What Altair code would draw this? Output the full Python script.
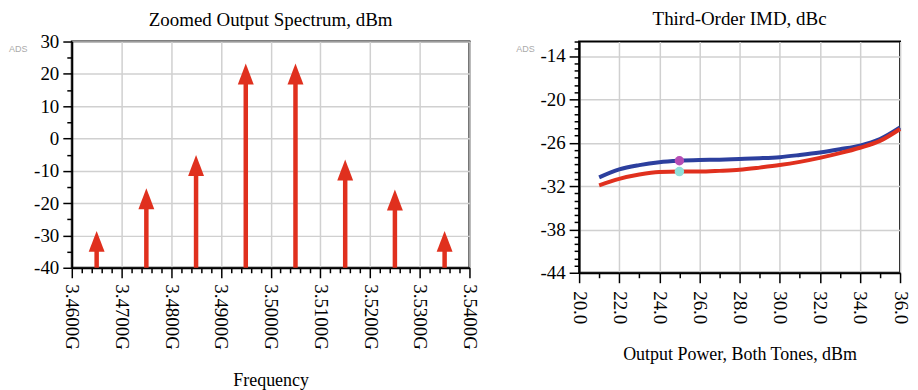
import altair as alt
import pandas as pd

# ---------------- data ----------------
freq_ghz = [3.465, 3.475, 3.485, 3.495, 3.505, 3.515, 3.525, 3.535]
spectrum_dbm = [-28.6, -15.4, -5.1, 23.2, 23.2, -6.5, -15.8, -28.6]

pout_dbm = [21, 22, 23, 24, 25, 26, 27, 28, 29, 30, 31, 32, 33, 34, 35, 36]
imd_blue = [-30.8, -29.7, -29.1, -28.7, -28.5, -28.4, -28.35, -28.25, -28.15, -28.0,
            -27.7, -27.35, -26.9, -26.4, -25.5, -23.9]
imd_red = [-31.9, -31.0, -30.4, -30.05, -30.0, -30.0, -29.9, -29.75, -29.45, -29.1,
           -28.65, -28.1, -27.45, -26.7, -25.75, -24.1]

marker_x = [25, 25]
marker_y = [-28.5, -30.0]
marker_name = ["m1", "m2"]

freq_ticks = [round(3.46 + 0.002 * i, 3) for i in range(41)]
spec_ticks = list(range(-40, 31, 5))
pout_ticks = list(range(20, 37))
imd_ticks = list(range(-44, -11))

RED = "#e0301e"
BLUE = "#2c3f9e"
SERIF = "Liberation Serif"


def cond(test, a, b):
    return {"condition": {"test": test, "value": a}, "value": b}


common = dict(labelOverlap=False, labelFlush=False, labelBound=False, tickCount=200)

# ---------------- left chart ----------------
spec_df = pd.DataFrame({"f": freq_ghz, "p": spectrum_dbm})
fx_major = "round(datum.value*1000) % 10 == 0"
fy_major = "datum.value % 10 == 0"

xs_l = alt.Scale(domain=[3.46, 3.54], nice=False, zero=False)
ys_l = alt.Scale(domain=[-40, 30], nice=False, zero=False)

x_axis_l = alt.Axis(
    values=freq_ticks,
    labelExpr=f"{fx_major} ? format(datum.value, '.4f') + 'G' : ''",
    labelAngle=90,
    tickSize=cond(fx_major, 10, 5),
    gridOpacity=cond(fx_major, 1, 0),
    labelPadding=6,
    title="Frequency",
    titleY=118,
    titleBaseline="alphabetic",
    **common,
)
y_axis_l = alt.Axis(
    values=spec_ticks,
    labelExpr=f"{fy_major} ? '' + datum.value : ''",
    tickSize=cond(fy_major, 9, 5),
    gridOpacity=cond(fy_major, 1, 0),
    labelPadding=4,
    title=None,
    **common,
)

stems = alt.Chart(spec_df).transform_calculate(top="datum.p - 4").mark_rule(
    color=RED, strokeWidth=4.5
).encode(
    x=alt.X("f:Q", scale=xs_l, axis=x_axis_l),
    y=alt.Y("top:Q", scale=ys_l, axis=y_axis_l),
    y2=alt.datum(-40),
)
heads = alt.Chart(spec_df).mark_point(
    shape="M0,0L0.76,2L-0.76,2Z", filled=True, size=441, color=RED, opacity=1
).encode(x="f:Q", y="p:Q")

ads_l = alt.Chart(alt.Data(values=[{"a": 1}])).mark_text(
    text="ADS", font="Liberation Sans", fontSize=9, color="#aaaaaa",
    align="left", baseline="middle"
).encode(x=alt.value(-63), y=alt.value(8))

left = alt.layer(stems, heads, ads_l).properties(
    width=399, height=227,
    title=alt.TitleParams("Zoomed Output Spectrum, dBm", offset=2.5),
)

# ---------------- right chart ----------------
imd_df = pd.concat([
    pd.DataFrame({"x": pout_dbm, "y": imd_blue, "s": "blue"}),
    pd.DataFrame({"x": pout_dbm, "y": imd_red, "s": "red"}),
])
mk_df = pd.DataFrame({"x": marker_x, "y": marker_y, "m": marker_name})

px_major = "datum.value % 2 == 0"
py_major = "(datum.value + 44) % 6 == 0"

xs_r = alt.Scale(domain=[20, 36], nice=False, zero=False)
ys_r = alt.Scale(domain=[-44, -12], nice=False, zero=False)

x_axis_r = alt.Axis(
    values=pout_ticks,
    labelExpr=f"{px_major} ? format(datum.value, '.1f') : ''",
    labelAngle=90,
    tickSize=cond(px_major, 10, 5),
    gridOpacity=cond(px_major, 1, 0),
    labelPadding=8,
    title="Output Power, Both Tones, dBm",
    titleY=87,
    titleBaseline="alphabetic",
    **common,
)
y_axis_r = alt.Axis(
    values=imd_ticks,
    labelExpr=f"{py_major} ? '' + datum.value : ''",
    tickSize=cond(py_major, 10, 5),
    gridOpacity=cond(py_major, 1, 0),
    labelPadding=4,
    title=None,
    **common,
)

lines = alt.Chart(imd_df).mark_line(strokeWidth=4, interpolate="monotone").encode(
    x=alt.X("x:Q", scale=xs_r, axis=x_axis_r),
    y=alt.Y("y:Q", scale=ys_r, axis=y_axis_r),
    color=alt.Color("s:N", scale=alt.Scale(domain=["blue", "red"], range=[BLUE, RED]), legend=None),
    order=alt.Order("s:N"),
)
marks = alt.Chart(mk_df).mark_point(filled=True, size=90, opacity=1).encode(
    x="x:Q",
    y="y:Q",
    fill=alt.Fill("m:N", scale=alt.Scale(domain=["m1", "m2"], range=["#b54db5", "#8fe0da"]), legend=None),
)
ads_r = alt.Chart(alt.Data(values=[{"a": 1}])).mark_text(
    text="ADS", font="Liberation Sans", fontSize=9, color="#aaaaaa",
    align="left", baseline="middle"
).encode(x=alt.value(-63), y=alt.value(8))

right = alt.layer(lines, marks, ads_r).resolve_scale(color="independent").properties(
    width=322, height=232,
    title=alt.TitleParams("Third-Order IMD, dBc", offset=4),
)

chart = alt.hconcat(left, right, spacing=36).properties(padding=0).configure_view(
    stroke="black", strokeWidth=2
).configure_axis(
    domainColor="black", domainWidth=2, tickColor="black", tickWidth=1.5,
    gridColor="#d0d0d0", gridWidth=1.5,
    labelFont=SERIF, labelFontSize=19, labelColor="black",
    titleFont=SERIF, titleFontSize=18, titleFontWeight="normal", titleColor="black",
).configure_title(
    font=SERIF, fontSize=19, fontWeight="normal", color="black"
)

chart.save("out.html", embed_options={"renderer": "svg", "actions": False})
